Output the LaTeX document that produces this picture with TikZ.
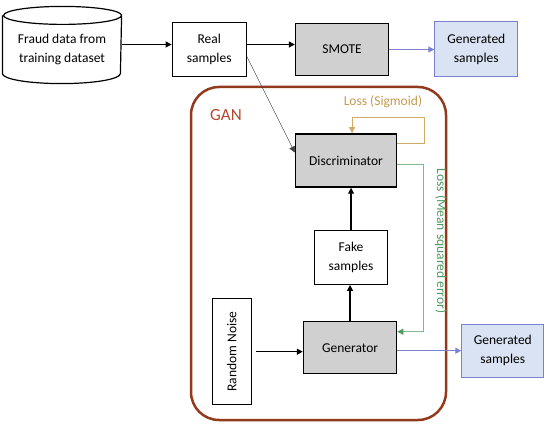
\documentclass[tikz,border=0pt]{standalone}
\usepackage{fontspec}
\setmainfont{Carlito}
\usetikzlibrary{arrows.meta,positioning}
\definecolor{greybox}{HTML}{D0D0D0}
\definecolor{genfill}{HTML}{DAE3F3}
\definecolor{genline}{HTML}{7A82D0}
\definecolor{ganred}{HTML}{943A1C}
\definecolor{gantext}{HTML}{B5472E}
\definecolor{sigline}{HTML}{D2AC66}
\definecolor{sigtext}{HTML}{C49A50}
\definecolor{mseline}{HTML}{7DBB8A}
\definecolor{msetext}{HTML}{4E9A60}

\begin{document}
\begin{tikzpicture}[x=1pt,y=-1pt,
  box/.style={draw,line width=1.2pt,align=center,inner sep=0pt,
    font=\fontsize{13.5}{19}\selectfont},
  greyfill/.style={box,fill=greybox,line width=1.5pt},
  genbox/.style={box,draw=genline,fill=genfill,line width=1pt},
  arrow/.style={-{Triangle[length=6pt,width=6pt]},line width=1.2pt},
  thinarrow/.style={-{Triangle[length=6pt,width=6pt]},line width=0.5pt,black!75},
  bluearrow/.style={-{Triangle[length=6pt,width=6pt]},line width=0.9pt,genline},
  sigarrow/.style={-{Triangle[length=6pt,width=6pt]},line width=0.8pt,sigline},
  msearrow/.style={line width=0.8pt,mseline,
    -{Triangle[length=6pt,width=6pt,fill=msetext,color=msetext]}},
  losslabel/.style={font=\fontsize{13.5}{16}\selectfont,inner sep=0pt}]
\useasboundingbox (0,0) rectangle (550,428);
% database cylinder
\node[box,draw=none,minimum width=118pt,minimum height=67pt] (fraud) at (62,49.5)
  {Fraud data from\\training dataset};
\draw[line width=1.2pt] (fraud.north west) -- ([yshift=10pt]fraud.south west)
  arc[start angle=180,end angle=360,x radius=59pt,y radius=10pt]
  -- (fraud.north east) arc[start angle=0,end angle=360,x radius=59pt,y radius=9pt];
\node[box,minimum width=74pt,minimum height=54pt,right=50pt of fraud] (real) {Real\\samples};
\node[greyfill,minimum width=93pt,minimum height=52pt,right=48pt of real] (smote) {SMOTE};
\node[genbox,minimum width=83pt,minimum height=55pt,right=45pt of smote] (gen1) {Generated\\samples};
% GAN block
\draw[ganred,line width=2.5pt,rounded corners=28pt] (191,87) rectangle (446,420);
\node[font=\fontsize{17}{20}\selectfont,text=gantext] (gan) at (226,115) {GAN};
\node[greyfill,minimum width=101pt,minimum height=53pt,below=57pt of smote,xshift=4pt] (disc) {Discriminator};
\node[box,minimum width=73pt,minimum height=54pt,below=42pt of disc,xshift=5pt] (fake) {Fake\\samples};
\node[greyfill,minimum width=93pt,minimum height=52pt,below=36pt of fake,xshift=-1pt] (gen) {Generator};
\node[box,minimum width=39pt,minimum height=106pt,left=51pt of gen,yshift=-4pt] (noise)
  {\rotatebox{90}{Random Noise}};
\node[genbox,minimum width=82pt,minimum height=53pt,right=64pt of gen,yshift=-3pt] (gen2) {Generated\\samples};
\node[losslabel,text=sigtext] (sig) at (383,102) {Loss (Sigmoid)};
\node[losslabel,text=msetext,rotate=-90] (mse) at (441,241) {Loss (Mean squared error)};
% connectors
\draw[arrow] ([yshift=5pt]fraud.east) -- ([yshift=5pt]real.west);
\draw[arrow] ([yshift=5pt]real.east) -- ([yshift=5pt]smote.west);
\draw[bluearrow] (smote) -- (gen1);
\draw[thinarrow] ([yshift=-7pt]real.east) -- ([yshift=8pt]disc.west);
\draw[arrow] ([xshift=4pt]noise.east) -- (noise.east -| gen.west);
\draw[arrow] (gen.north) -- (gen.north |- fake.south);
\draw[arrow] (fake.north) -- (fake.north |- disc.south);
\draw[bluearrow] (gen2.west -| gen.east) -- (gen2.west);
\draw[sigarrow] ([yshift=17pt]disc.east) -- ++(27,0) -- ++(0,-26) -| ([xshift=6pt]disc.north);
\draw[msearrow] ([yshift=-4pt]disc.east) -- ++(26,0) |- ([yshift=16pt]gen.east);
\end{tikzpicture}
\end{document}
